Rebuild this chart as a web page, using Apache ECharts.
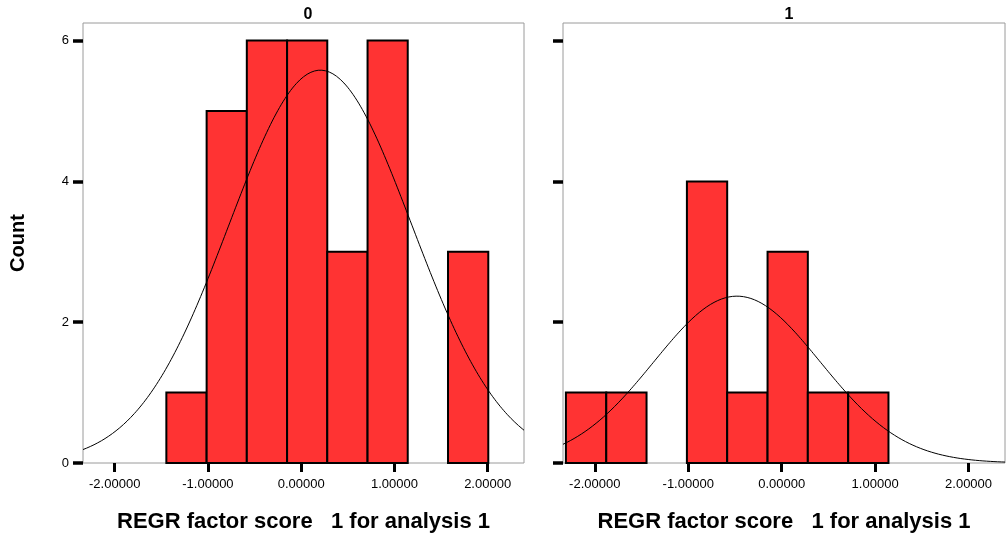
<!DOCTYPE html>
<html>
<head>
<meta charset="utf-8">
<script src="https://cdn.jsdelivr.net/npm/echarts@6/dist/echarts.min.js"></script>
<style>
html,body{margin:0;padding:0;background:#fff;}
#c{width:1006px;height:538px;}
</style>
</head>
<body>
<div id="c"></div>
<script>
// ---- data ----
const panelTitles = ['0', '1'];
const binEdges = [-2.309, -1.877, -1.446, -1.014, -0.583, -0.151, 0.280, 0.712, 1.143, 1.575, 2.007];
const counts0 = [0, 0, 1, 5, 6, 6, 3, 6, 0, 3];
const counts1 = [1, 1, 0, 4, 1, 3, 1, 1, 0, 0];
// normal curve fit: [mean, sd, peak height]
const normal0 = [0.206, 0.98, 5.58];
const normal1 = [-0.478, 0.89, 2.37];
const xTicks = [-2, -1, 0, 1, 2];
const yTicks = [0, 2, 4, 6];
const xTitle = 'REGR factor score   1 for analysis 1';
const yTitle = 'Count';
const xRange = [-2.34, 2.39];
const yRange = [0, 6.25];

function barData(counts) {
  const out = [];
  counts.forEach((c, i) => { if (c > 0) out.push([binEdges[i], binEdges[i + 1], c]); });
  return out;
}
function curveData(p) {
  const pts = [];
  const n = 240;
  for (let i = 0; i <= n; i++) {
    const x = xRange[0] + (xRange[1] - xRange[0]) * i / n;
    const z = (x - p[0]) / p[1];
    pts.push([x, p[2] * Math.exp(-0.5 * z * z)]);
  }
  return pts;
}

const chart = echarts.init(document.getElementById('c'), null, {renderer: 'canvas'});
const grids = [
  {left: 83, right: 482, top: 23, bottom: 74, show: true, borderColor: '#9a9a9a', borderWidth: 1, backgroundColor: '#fff'},
  {left: 563, right: 1, top: 23, bottom: 74, show: true, borderColor: '#9a9a9a', borderWidth: 1, backgroundColor: '#fff'}
];
function xAxis(i) {
  return {
    type: 'value', gridIndex: i, min: xRange[0], max: xRange[1],
    name: xTitle, nameLocation: 'middle', nameGap: 48,
    nameTextStyle: {fontFamily: 'Liberation Sans', fontWeight: 'bold', fontSize: 22, color: '#000'},
    axisLine: {show: false, onZero: false},
    splitLine: {show: false},
    axisTick: {show: true, length: 9, customValues: xTicks, lineStyle: {color: '#000', width: 3}},
    axisLabel: {show: true, customValues: xTicks, margin: 15, fontFamily: 'Liberation Sans', fontSize: 13, color: '#000',
      formatter: v => v.toFixed(5)}
  };
}
function yAxis(i) {
  return {
    type: 'value', gridIndex: i, min: yRange[0], max: yRange[1],
    name: i === 0 ? yTitle : '', nameLocation: 'middle', nameGap: 55,
    nameTextStyle: {fontFamily: 'Liberation Sans', fontWeight: 'bold', fontSize: 20, color: '#000'},
    axisLine: {show: false, onZero: false},
    splitLine: {show: false},
    axisTick: {show: true, length: 10, customValues: yTicks, lineStyle: {color: '#000', width: 3.5}},
    axisLabel: {show: i === 0, customValues: yTicks, margin: 14, fontFamily: 'Liberation Sans', fontSize: 13, color: '#000'}
  };
}
function barSeries(i, counts) {
  return {
    type: 'custom', xAxisIndex: i, yAxisIndex: i,
    data: barData(counts),
    renderItem: function (params, api) {
      const p0 = api.coord([api.value(0), api.value(2)]);
      const p1 = api.coord([api.value(1), 0]);
      return {
        type: 'rect',
        shape: {x: p0[0], y: p0[1], width: p1[0] - p0[0], height: p1[1] - p0[1]},
        style: {fill: '#ff3333', stroke: '#000', lineWidth: 2}
      };
    },
    silent: true, animation: false
  };
}
function curveSeries(i, p) {
  return {
    type: 'line', xAxisIndex: i, yAxisIndex: i,
    data: curveData(p), showSymbol: false, smooth: false, clip: true,
    lineStyle: {color: '#000', width: 1}, silent: true, animation: false, z: 5
  };
}

chart.setOption({
  animation: false,
  backgroundColor: '#fff',
  title: [
    {text: panelTitles[0], left: 303, top: 2, textAlign: 'center',
      textStyle: {fontFamily: 'Liberation Sans', fontWeight: 'bold', fontSize: 16, color: '#000'}},
    {text: panelTitles[1], left: 784, top: 2, textAlign: 'center',
      textStyle: {fontFamily: 'Liberation Sans', fontWeight: 'bold', fontSize: 16, color: '#000'}}
  ],
  grid: grids,
  xAxis: [xAxis(0), xAxis(1)],
  yAxis: [yAxis(0), yAxis(1)],
  series: [barSeries(0, counts0), curveSeries(0, normal0), barSeries(1, counts1), curveSeries(1, normal1)]
});
</script>
</body>
</html>
